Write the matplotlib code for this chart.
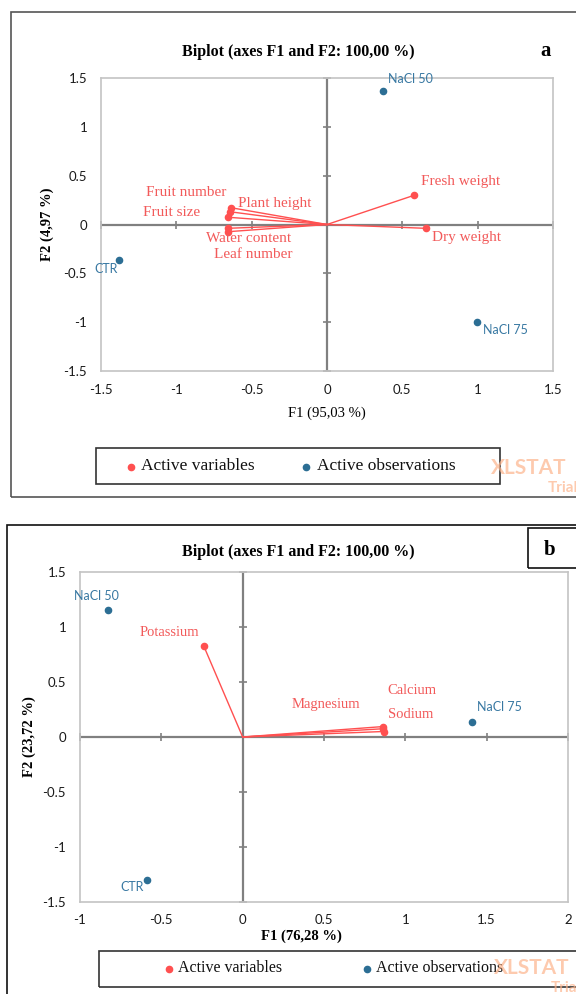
import matplotlib.pyplot as plt
from matplotlib.patches import Rectangle
from matplotlib.lines import Line2D

W, H = 576, 994

# panel a: growth variables
a_var_names = ["Plant height", "Fruit number", "Fruit size", "Water content",
               "Leaf number", "Fresh weight", "Dry weight"]
a_var_f1 = [-0.637, -0.646, -0.655, -0.659, -0.659, 0.58, 0.654]
a_var_f2 = [0.172, 0.131, 0.074, -0.039, -0.074, 0.30, -0.039]
a_obs_names = ["NaCl 50", "CTR", "NaCl 75"]
a_obs_f1 = [0.37, -1.38, 0.997]
a_obs_f2 = [1.367, -0.363, -1.00]
a_xticks = [-1.5, -1, -0.5, 0, 0.5, 1, 1.5]
a_yticks = [-1.5, -1, -0.5, 0, 0.5, 1, 1.5]

# panel b: ions
b_var_names = ["Potassium", "Calcium", "Magnesium", "Sodium"]
b_var_f1 = [-0.24, 0.864, 0.862, 0.866]
b_var_f2 = [0.83, 0.095, 0.075, 0.05]
b_obs_names = ["NaCl 50", "NaCl 75", "CTR"]
b_obs_f1 = [-0.826, 1.408, -0.59]
b_obs_f2 = [1.155, 0.133, -1.30]
b_xticks = [-1, -0.5, 0, 0.5, 1, 1.5, 2]
b_yticks = [-1.5, -1, -0.5, 0, 0.5, 1, 1.5]

# label offsets in pixels from each point
a_var_off = [(44, 4), (-43, 19), (-57, 5), (21, -10), (26, -23), (46, 14), (41, -9)]
a_obs_off = [(28, 12), (-13, -9), (28, -8)]
b_var_off = [(-34, 13), (29, 36), (-57, 24), (27, 17)]
b_obs_off = [(-12, 14), (28, 15), (-15, -7)]

RED = "#FF5050"
RED_TXT = "#F25A5A"
BLUE = "#2C6E94"
BLUE_TXT = "#3878A2"
SERIF = "Liberation Serif"
SANS = "Lato"


def fx(px):
    return px / W


def fy(py):
    return 1 - py / H


def rect(l, t, r, b, **kw):
    fig.add_artist(Rectangle((fx(l), fy(b)), (r - l) / W, (b - t) / H,
                             transform=fig.transFigure, fill=False, **kw))


def ftext(x, y, s, **kw):
    fig.text(fx(x), fy(y), s, ha="center", va="center", **kw)


def fmt(v):
    return ("%g" % v)


def biplot(box, xticks, yticks, vx, vy, vnames, voff, ox, oy, onames, ooff, vfont, vsize):
    l, t, r, b = box
    ax = fig.add_axes([fx(l), fy(b), (r - l) / W, (b - t) / H])
    ax.set_xlim(xticks[0], xticks[-1])
    ax.set_ylim(yticks[0], yticks[-1])
    for s in ax.spines.values():
        s.set_color("#C4C4C4")
        s.set_linewidth(1.2)
    ax.set_xticks(xticks)
    ax.set_xticklabels([fmt(v) for v in xticks])
    ax.set_yticks(yticks)
    ax.set_yticklabels([fmt(v) for v in yticks])
    ax.tick_params(length=0, labelsize=9.5, labelcolor="#1a1a1a")
    ax.tick_params(axis="x", pad=9)
    ax.tick_params(axis="y", pad=10)
    for lab in ax.get_xticklabels() + ax.get_yticklabels():
        lab.set_fontfamily(SANS)

    ax.axhline(0, color="#808080", lw=1.6, zorder=1)
    ax.axvline(0, color="#808080", lw=1.6, zorder=1)
    ax.plot(xticks, [0] * len(xticks), ls="none", marker="|", ms=6, mew=1.2,
            color="#808080", clip_on=False, zorder=1)
    ax.plot([0] * len(yticks), yticks, ls="none", marker="_", ms=6, mew=1.2,
            color="#808080", clip_on=False, zorder=1)

    for x, y in zip(vx, vy):
        ax.plot([0, x], [0, y], color=RED, lw=1, zorder=2)
    ax.scatter(vx, vy, s=20, color=RED, zorder=3)
    for x, y, n, o in zip(vx, vy, vnames, voff):
        ax.annotate(n, (x, y), xytext=o, textcoords="offset pixels", ha="center",
                    va="center", color=RED_TXT, fontfamily=vfont, fontsize=vsize)

    ax.scatter(ox, oy, s=20, color=BLUE, zorder=3, clip_on=False)
    for x, y, n, o in zip(ox, oy, onames, ooff):
        ax.annotate(n, (x, y), xytext=o, textcoords="offset pixels", ha="center",
                    va="center", color=BLUE_TXT, fontfamily=SANS, fontsize=9,
                    annotation_clip=False)
    return ax


def legend_box(l, t, r, b, ty, items, size):
    rect(l, t, r, b, edgecolor="#333333", lw=1.2)
    for dot_x, text_x, label, color in items:
        fig.add_artist(Line2D([fx(dot_x)], [fy(ty + 1)], marker="o", ms=4.5,
                              color=color, transform=fig.transFigure))
        fig.text(fx(text_x), fy(ty), label, ha="left", va="center",
                 fontfamily=SERIF, fontsize=size, color="#111111")


def watermark(x, y):
    fig.text(fx(x), fy(y), "XLSTAT", ha="left", va="center", fontfamily=SANS,
             fontweight="bold", fontsize=15, color="#FDB48C", alpha=0.7)
    fig.text(fx(x + 57), fy(y + 20), "Trial", ha="left", va="center", fontfamily=SANS,
             fontweight="bold", fontsize=11, color="#FDB48C", alpha=0.7)


fig = plt.figure(figsize=(W / 100, H / 100), dpi=100)

# ---- panel a ----
rect(11, 12, 590, 497, edgecolor="#555555", lw=1.2)
biplot((101, 78, 553, 371), a_xticks, a_yticks, a_var_f1, a_var_f2, a_var_names,
       a_var_off, a_obs_f1, a_obs_f2, a_obs_names, a_obs_off, SERIF, 11)
ftext(298, 52, "Biplot (axes F1 and F2: 100,00 %)", fontfamily=SERIF,
      fontweight="bold", fontsize=11.5)
ftext(546, 51, "a", fontfamily=SERIF, fontweight="bold", fontsize=15)
ftext(327, 413, "F1 (95,03 %)", fontfamily=SERIF, fontsize=10.5)
ftext(47, 224, "F2 (4,97 %)", fontfamily=SERIF, fontweight="bold", fontsize=10.5,
      rotation=90)
watermark(491, 468)
legend_box(96, 448, 500, 484, 466,
           [(131, 141, "Active variables", RED), (306, 317, "Active observations", BLUE)],
           12.5)

# ---- panel b ----
rect(7, 525, 590, 1010, edgecolor="#111111", lw=1.2)
rect(528, 528, 590, 568, edgecolor="#111111", lw=1.2)
ftext(550, 550, "b", fontfamily=SERIF, fontweight="bold", fontsize=15)
biplot((80, 572, 568, 902), b_xticks, b_yticks, b_var_f1, b_var_f2, b_var_names,
       b_var_off, b_obs_f1, b_obs_f2, b_obs_names, b_obs_off, SERIF, 10.5)
ftext(298, 552, "Biplot (axes F1 and F2: 100,00 %)", fontfamily=SERIF,
      fontweight="bold", fontsize=11.5)
ftext(301, 936, "F1 (76,28 %)", fontfamily=SERIF, fontweight="bold", fontsize=10.5)
ftext(29, 737, "F2 (23,72 %)", fontfamily=SERIF, fontweight="bold", fontsize=10.5,
      rotation=90)
legend_box(99, 951, 600, 987, 968,
           [(169, 178, "Active variables", RED), (367, 376, "Active observations", BLUE)],
           11.5)
watermark(494, 968)

fig.savefig("out.png", dpi=100)
